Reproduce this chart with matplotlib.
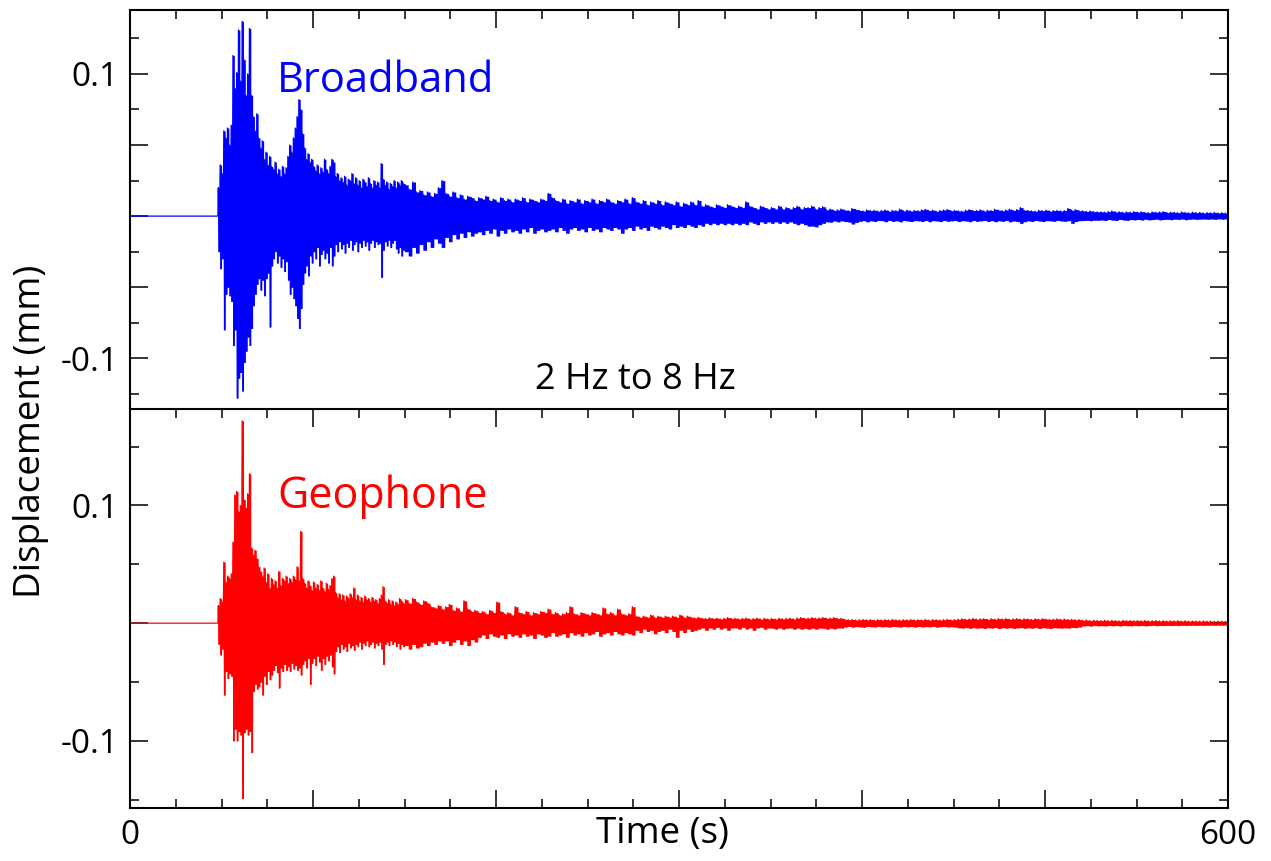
import matplotlib
matplotlib.use("Agg")
import matplotlib.pyplot as plt
import numpy as np
from matplotlib.ticker import MultipleLocator

# Peak displacement per time bin, in micrometres (positive = upward swing,
# "dn" = size of the downward swing). Head bins are 1 s wide from 48 s,
# tail bins are 2 s wide from 150 s.
ONSET = 48.0
TAIL_START = 150.0

bb_up_head = [
    20, 36, 30, 60, 55, 62, 50, 64, 113, 90,
    101, 131, 95, 137, 110, 85, 100, 132, 85, 70,
    60, 72, 55, 48, 53, 40, 45, 36, 42, 35,
    33, 38, 30, 33, 28, 35, 30, 34, 42, 50,
    45, 55, 62, 70, 82, 75, 58, 48, 40, 44,
    38, 40, 35, 32, 36, 30, 34, 31, 40, 33,
    30, 35, 40, 38, 28, 30, 25, 27, 24, 28,
    22, 26, 25, 30, 23, 27, 22, 25, 20, 26,
    24, 21, 27, 23, 20, 25, 22, 24, 20, 37,
    26, 22, 24, 19, 23, 21, 25, 20, 24, 22,
    25, 23,
]
bb_dn_head = [
    25, 37, 30, 80, 55, 50, 56, 60, 91, 80,
    128, 114, 110, 123, 103, 95, 85, 91, 79, 63,
    55, 48, 44, 52, 45, 56, 44, 40, 78, 35,
    30, 25, 33, 28, 36, 30, 39, 32, 45, 55,
    50, 58, 63, 72, 79, 65, 48, 40, 35, 42,
    28, 33, 25, 30, 22, 35, 27, 24, 30, 26,
    33, 22, 35, 28, 20, 25, 18, 23, 20, 26,
    19, 22, 17, 24, 20, 18, 25, 19, 22, 17,
    21, 18, 24, 19, 17, 22, 18, 20, 19, 43,
    24, 18, 21, 17, 22, 19, 17, 23, 26, 22,
    28, 24,
]
bb_up_tail = [
    22, 19, 24, 17, 18, 15, 17, 14, 16, 20,
    25, 16, 14, 17, 13, 15, 12, 14, 13, 11,
    13, 12, 14, 11, 12, 10, 13, 11, 12, 10,
    12, 11, 13, 10, 12, 11, 10, 12, 11, 16,
    13, 11, 10, 12, 9, 11, 10, 12, 9, 11,
    10, 12, 9, 11, 10, 12, 10, 9, 11, 10,
    12, 9, 13, 10, 9, 11, 8, 10, 9, 11,
    8, 10, 9, 8, 10, 7, 9, 8, 10, 8,
    11, 7, 8, 7, 6, 8, 7, 6, 8, 7,
    6, 7, 6, 10, 7, 6, 5, 7, 6, 5,
    6, 5, 7, 5, 6, 5, 6, 7, 5, 6,
    6, 7, 5, 6, 6.6, 4.5, 5, 4, 4.4, 5,
    4.2, 3.8, 5.4, 4.6, 4.0, 3.6, 4.4, 3.9, 4.1, 3.5,
    4.0, 4.3, 3.4, 4.1, 3.8, 4.9, 3.7, 4.2, 3.5, 4.0,
    3.8, 4.4, 4.8, 3.9, 4.2, 3.4, 4.0, 4.3, 4.7, 3.8,
    4.1, 3.7, 3.5, 4.2, 4.6, 3.9, 4.0, 4.4, 3.6, 4.1,
    3.9, 4.8, 4.2, 3.8, 4.3, 4.9, 4.0, 4.6, 6.0, 4.2,
    4.0, 3.7, 3.4, 4.1, 3.8, 4.2, 3.5, 3.9, 4.0, 3.6,
    3.9, 5.4, 4.1, 4.6, 3.8, 3.7, 3.3, 3.6, 3.1, 3.0,
    3.0, 2.8, 3.2, 3.6, 2.9, 3.1, 2.7, 3.0, 2.8, 3.2,
    2.8, 3.1, 2.6, 2.4, 3.0, 2.7, 2.9, 3.2, 2.5, 2.8,
    2.7, 2.4, 2.9, 2.6, 2.3, 2.8, 2.4, 2.6, 2.2, 2.5,
    2.3, 2.6, 2.2, 2.4, 2.1,
]
bb_dn_tail = [
    25, 28, 22, 26, 20, 24, 18, 22, 16, 19,
    22, 15, 18, 13, 16, 12, 15, 11, 14, 12,
    11, 13, 10, 12, 9, 14, 10, 12, 9, 11,
    10, 12, 9, 11, 8, 12, 10, 9, 11, 10,
    9, 11, 8, 10, 12, 9, 8, 10, 9, 11,
    8, 10, 9, 11, 8, 9, 10, 8, 9, 12,
    9, 8, 10, 7, 9, 8, 10, 7, 8, 9,
    7, 8, 9, 6, 8, 7, 8, 6, 7, 8,
    6, 7, 5, 6, 5, 6, 5, 6, 5, 6,
    5, 6, 5, 6, 4, 5, 6, 4, 5, 4,
    5, 4, 5, 4, 5, 4, 5, 6, 5, 6,
    7, 7, 7.5, 6, 5, 4, 4.2, 3.4, 4, 3.3,
    3.8, 4.1, 5.5, 4.4, 3.6, 3.2, 4.0, 3.3, 3.7, 3.1,
    3.2, 3.9, 3.0, 3.6, 3.3, 4.0, 3.1, 3.4, 3.8, 3.2,
    3.3, 3.7, 3.1, 3.9, 3.2, 3.4, 3.8, 3.0, 3.6, 3.3,
    3.1, 3.8, 3.2, 3.4, 3.9, 3.1, 3.6, 3.3, 3.0, 3.7,
    3.2, 3.9, 3.3, 3.6, 3.1, 4.0, 3.4, 3.8, 5.0, 3.9,
    3.3, 3.7, 3.1, 3.4, 3.8, 3.2, 3.3, 3.6, 3.0, 3.4,
    3.6, 3.2, 5.0, 3.8, 3.2, 3.1, 2.9, 3.2, 2.8, 2.9,
    2.7, 3.0, 2.4, 2.8, 3.0, 2.3, 2.7, 2.9, 2.4, 2.6,
    2.3, 2.7, 2.2, 2.6, 2.4, 2.1, 2.6, 2.3, 2.2, 2.5,
    2.1, 2.3, 2.0, 2.5, 2.2, 2.0, 2.3, 2.1, 2.0, 2.2,
    2.0, 2.2, 1.9, 2.1, 1.9,
]

gp_up_head = [
    15, 21, 18, 52, 35, 40, 38, 42, 69, 109,
    112, 95, 100, 172, 105, 98, 110, 127, 64, 58,
    62, 55, 48, 44, 40, 47, 35, 42, 30, 38,
    33, 36, 30, 44, 32, 38, 36, 40, 34, 38,
    35, 40, 37, 48, 36, 78, 38, 34, 30, 36,
    32, 28, 35, 30, 33, 28, 36, 30, 27, 34,
    29, 32, 38, 40, 26, 22, 25, 20, 24, 19,
    23, 21, 25, 22, 30, 20, 24, 19, 22, 18,
    23, 20, 21, 18, 22, 19, 20, 17, 21, 24,
    31, 19, 17, 20, 16, 19, 15, 18, 16, 21,
    19, 17,
]
gp_dn_head = [
    18, 27, 22, 61, 41, 47, 43, 45, 100, 90,
    100, 92, 95, 149, 93, 90, 95, 92, 110, 58,
    52, 56, 54, 50, 61, 45, 52, 41, 48, 44,
    40, 36, 42, 55, 38, 41, 35, 40, 37, 41,
    34, 39, 36, 40, 38, 44, 35, 32, 38, 30,
    52, 34, 30, 36, 28, 33, 40, 30, 35, 28,
    32, 27, 37, 43, 24, 20, 25, 18, 22, 20,
    24, 17, 21, 19, 23, 18, 20, 16, 22, 17,
    19, 15, 20, 18, 16, 21, 17, 19, 16, 22,
    35, 18, 16, 19, 15, 18, 16, 20, 17, 22,
    18, 20,
]
gp_up_tail = [
    20, 17, 21, 18, 16, 19, 17, 14, 13, 15,
    12, 14, 16, 11, 13, 10, 19, 12, 10, 11,
    9, 10, 8, 11, 9, 18, 10, 8, 9, 7,
    14, 9, 8, 10, 7, 9, 8, 10, 9, 12,
    8, 9, 7, 8, 9, 14, 8, 7, 9, 8,
    7, 9, 8, 7, 13, 8, 9, 7, 12, 8,
    7, 8, 14, 6, 5, 6, 5, 7, 5, 6,
    5, 6, 5, 6, 5, 7, 5, 6, 5, 4.5,
    5, 4.2, 4, 4.6, 4, 4.3, 3.6, 4.1, 4.8, 4,
    4.2, 3.6, 4.1, 4.4, 3.5, 4, 4.3, 3.4, 4.1, 3.6,
    4, 3.5, 4.2, 3.6, 4.1, 4.3, 3.5, 4.4, 4.8, 4.1,
    4.3, 4.8, 4.2, 4.5, 4.9, 4.1, 4.4, 4.8, 4.0, 4.2,
    3.2, 2.9, 3.1, 2.7, 3.0, 3.2, 2.8, 3.1, 2.6, 3.0,
    2.8, 3.1, 2.7, 3.2, 2.9, 2.6, 3.0, 2.8, 3.2, 2.7,
    3.0, 2.8, 3.2, 2.6, 3.1, 2.9, 2.7, 3.0, 3.3, 2.8,
    3.1, 3.4, 3.8, 3.3, 3.6, 4.0, 3.4, 3.7, 3.9, 3.3,
    3.8, 3.4, 3.9, 3.6, 4.0, 3.3, 3.7, 3.9, 3.4, 3.8,
    3.6, 3.2, 3.8, 3.4, 3.9, 3.5, 3.2, 3.4, 3.7, 3.3,
    3.5, 3.1, 3.3, 2.9, 3.1, 2.4, 2.7, 2.2, 2.5, 2.3,
    2.2, 2.5, 2.1, 2.4, 2.2, 2.0, 2.4, 2.1, 2.3, 2.0,
    2.2, 2.0, 2.3, 1.9, 2.1, 2.2, 1.9, 2.1, 1.8, 2.0,
    1.9, 2.1, 1.8, 2.0, 1.7, 1.9, 1.8, 1.7, 1.9, 1.7,
    1.8, 1.6, 1.8, 1.7, 1.6,
]
gp_dn_tail = [
    19, 22, 18, 21, 20, 17, 19, 16, 18, 15,
    17, 15, 19, 16, 14, 18, 15, 19, 14, 16,
    12, 10, 13, 9, 11, 12, 10, 13, 9, 11,
    10, 12, 9, 11, 10, 13, 9, 10, 12, 11,
    8, 11, 10, 9, 12, 8, 10, 9, 11, 8,
    10, 9, 7, 11, 9, 8, 10, 7, 9, 10,
    8, 9, 10, 6, 8, 5, 7, 6, 9, 7,
    6, 8, 5, 7, 12, 6, 8, 5, 7, 6,
    5, 4, 6, 4, 5, 3.5, 5, 4, 6, 4,
    4, 5, 3.5, 5, 4, 6, 4, 3.5, 5, 4,
    4.2, 5, 4, 5, 4.3, 4, 5, 4.1, 5, 4.4,
    5, 4.2, 5, 4.1, 4.3, 5, 4.2, 4.8, 4, 4.1,
    3.2, 2.8, 3.3, 2.9, 3.1, 3.4, 2.8, 3.0, 3.2, 2.7,
    3.1, 2.9, 3.3, 2.8, 3.0, 3.2, 2.7, 3.1, 2.9, 3.3,
    2.8, 3.2, 2.9, 3.1, 2.7, 3.3, 3.0, 2.8, 3.2, 3.0,
    3.3, 3.9, 4.1, 3.7, 4.3, 3.8, 4.2, 3.9, 4.4, 3.8,
    4.1, 3.7, 4.5, 3.9, 4.2, 3.8, 4.4, 4.0, 3.7, 4.3,
    3.9, 4.2, 3.7, 4.4, 3.8, 4.1, 4.5, 3.8, 4.0, 4.2,
    3.9, 4.1, 3.6, 3.8, 3.2, 2.3, 2.1, 2.4, 2.0, 2.2,
    2.1, 2.3, 1.9, 2.2, 2.0, 2.3, 1.9, 2.1, 2.2, 1.9,
    2.1, 1.9, 2.2, 2.0, 1.8, 2.1, 1.9, 2.0, 1.8, 2.0,
    1.8, 2.0, 1.7, 1.9, 1.8, 1.7, 1.9, 1.7, 1.8, 1.7,
    1.7, 1.8, 1.6, 1.7, 1.6,
]

X_LABELS = ["0", "", "", "", "", "", "600"]


def bins(up_head, up_tail):
    """Start time and width of every bin."""
    t_head = ONSET + np.arange(len(up_head), dtype=float)
    t_tail = TAIL_START + 2.0 * np.arange(len(up_tail))
    width = np.concatenate([np.ones(len(t_head)), np.full(len(t_tail), 2.0)])
    return np.concatenate([t_head, t_tail]), width


def draw_trace(ax, up_head, dn_head, up_tail, dn_tail, color):
    t, width = bins(up_head, up_tail)
    up = np.asarray(up_head + up_tail, dtype=float) / 1000.0
    dn = np.asarray(dn_head + dn_tail, dtype=float) / 1000.0

    # solid band between the peaks of each bin
    edges = np.append(t, t[-1] + width[-1])
    ax.fill_between(edges, np.append(-dn, -dn[-1]), np.append(up, up[-1]),
                    step="post", color=color, lw=0)

    # zigzag through the peaks for the spiky outline
    tt = np.column_stack([t + 0.25 * width, t + 0.75 * width]).ravel()
    yy = np.column_stack([up, -dn]).ravel()
    tt = np.concatenate([[0.0, ONSET], tt])
    yy = np.concatenate([[0.0, 0.0], yy])
    ax.plot(tt, yy, color=color, lw=0.9)


def style_axes(ax, ylim, ymajor, yminor, ylabels):
    ax.set_xlim(0, 600)
    ax.set_ylim(*ylim)
    ax.xaxis.set_major_locator(MultipleLocator(100))
    ax.xaxis.set_minor_locator(MultipleLocator(25))
    ax.set_yticks(ymajor)
    ax.set_yticklabels(ylabels)
    ax.yaxis.set_minor_locator(MultipleLocator(yminor))
    ax.tick_params(which="both", direction="in", top=True, right=True,
                   width=1.1, labelsize=24, pad=8)
    ax.tick_params(which="major", length=13)
    ax.tick_params(which="minor", length=6.5)
    for sp in ax.spines.values():
        sp.set_linewidth(1.5)


plt.rcParams["font.family"] = ["Open Sans", "DejaVu Sans"]
plt.rcParams["axes.unicode_minus"] = False

fig = plt.figure(figsize=(12.71, 8.61), dpi=100)
ax_bb = fig.add_axes([0.1023, 0.5261, 0.8639, 0.4623])
ax_gp = fig.add_axes([0.1023, 0.0616, 0.8639, 0.4634])

draw_trace(ax_bb, bb_up_head, bb_dn_head, bb_up_tail, bb_dn_tail, "blue")
draw_trace(ax_gp, gp_up_head, gp_dn_head, gp_up_tail, gp_dn_tail, "red")

style_axes(ax_bb, (-0.135, 0.145), [-0.1, -0.05, 0, 0.05, 0.1], 0.025,
           ["-0.1", "", "", "", "0.1"])
style_axes(ax_gp, (-0.157, 0.182), [-0.1, 0, 0.1], 0.05,
           ["-0.1", "", "0.1"])

ax_bb.spines["bottom"].set_visible(False)
ax_bb.tick_params(axis="x", which="both", bottom=False, labelbottom=False)
ax_gp.set_xticks(range(0, 601, 100))
ax_gp.set_xticklabels(X_LABELS)

ax_bb.text(80.3, 0.0873, "Broadband", color="blue", fontsize=30,
           ha="left", va="baseline")
ax_gp.text(80.3, 0.098, "Geophone", color="red", fontsize=31,
           ha="left", va="baseline")
ax_bb.text(276, -0.1218, "2 Hz to 8 Hz", color="black", fontsize=26,
           ha="center", va="baseline")

fig.text(0.0244, 0.4994, "Displacement (mm)", rotation=90, fontsize=26.5,
         ha="center", va="center")
fig.text(0.521, 0.031, "Time (s)", fontsize=26.5, ha="center", va="center")

fig.savefig("out.png", dpi=100)
